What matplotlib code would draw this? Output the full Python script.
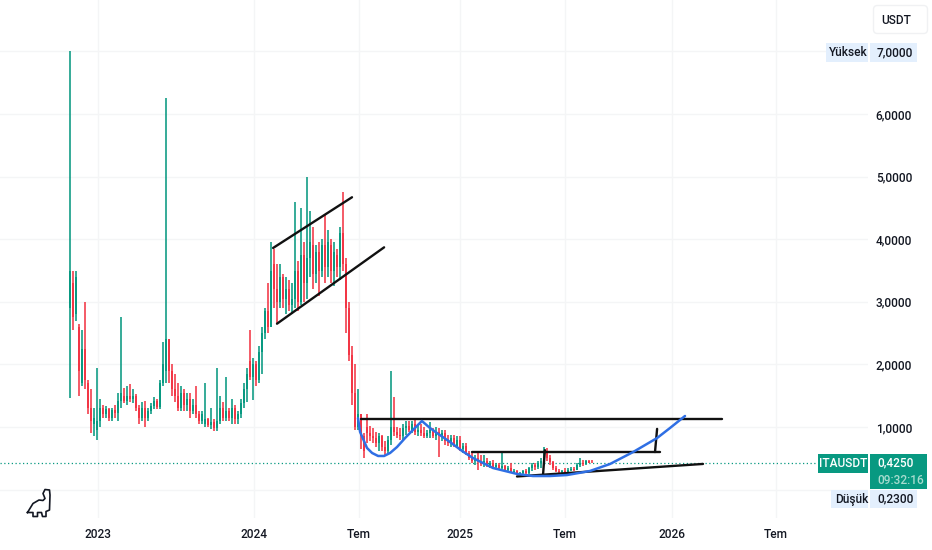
import matplotlib
matplotlib.use("Agg")
import matplotlib.pyplot as plt
from matplotlib.patches import FancyBboxPatch, Rectangle

plt.rcParams['font.family'] = ['Roboto', 'DejaVu Sans']
plt.rcParams['font.weight'] = 500

# candles, one line = ten bars
opens = [
    2.9, 3.3, 2.8, 2.6, 1.7, 2.25, 1.7, 1.3, 1.05, 0.95,
    1.1, 1.3, 1.2, 1.28, 1.15, 1.27, 1.22, 1.42, 1.5, 1.42,
    1.5, 1.45, 1.5, 1.3, 1.15, 1.3, 1.15, 1.25, 1.33, 1.42,
    1.32, 1.7, 1.9, 2.4, 1.9, 1.6, 1.5, 1.3, 1.55, 1.35,
    1.45, 1.25, 1.35, 1.2, 1.1, 1.05, 1.12, 1.03, 1.08, 0.98,
    1.1, 1.3, 1.15, 1.25, 1.15, 1.3, 1.12, 1.2, 1.38, 1.6,
    2.05, 1.8, 2.0, 1.75, 2.2, 2.5, 2.85, 2.6, 3.6, 3.2,
    3.0, 3.4, 3.05, 3.2, 2.95, 3.05, 3.5, 3.0, 3.75, 3.3,
    3.7, 3.9, 3.45, 3.8, 3.5, 3.9, 3.55, 3.9, 3.5, 3.75,
    3.55, 4.1, 3.6, 2.9, 2.15, 1.55, 1.0, 1.2, 0.85, 1.0,
    0.9, 0.85, 0.82, 0.75, 0.85, 0.68, 0.62, 0.8, 1.0, 0.92,
    0.88, 0.85, 0.98, 1.02, 0.96, 1.05, 0.92, 0.95, 0.9, 0.86,
    0.9, 0.95, 0.85, 0.92, 0.85, 0.9, 0.78, 0.75, 0.82, 0.7,
    0.8, 0.65, 0.7, 0.58, 0.5, 0.46, 0.5, 0.44, 0.41, 0.45,
    0.38, 0.42, 0.36, 0.4, 0.34, 0.38, 0.32, 0.35, 0.28, 0.3,
    0.25, 0.26, 0.3, 0.27, 0.34, 0.4, 0.36, 0.42, 0.46, 0.6,
    0.5, 0.44, 0.35, 0.3, 0.28, 0.3, 0.28, 0.32, 0.33, 0.32,
    0.4, 0.42, 0.41, 0.45, 0.43,
]
highs = [
    7.0, 3.5, 3.5, 2.65, 2.55, 3.0, 1.75, 1.6, 1.3, 1.95,
    1.45, 1.35, 1.33, 1.3, 1.3, 1.35, 1.55, 2.75, 1.62, 1.65,
    1.68, 1.6, 1.52, 1.35, 1.4, 1.42, 1.3, 1.38, 1.48, 1.45,
    1.75, 2.35, 6.25, 2.4, 2.0, 1.85, 1.7, 1.65, 1.6, 1.55,
    1.55, 1.45, 1.65, 1.25, 1.25, 1.7, 1.15, 1.3, 1.12, 1.95,
    1.5, 1.4, 1.8, 1.3, 1.45, 1.35, 1.25, 1.45, 1.7, 1.95,
    2.55, 2.1, 2.05, 2.3, 2.6, 2.9, 3.3, 3.95, 3.85, 3.6,
    3.6, 3.45, 3.4, 3.35, 3.3, 4.6, 3.65, 4.5, 3.95, 5.0,
    4.45, 4.2, 3.9, 3.95, 4.0, 4.4, 4.15, 4.0, 3.95, 3.85,
    4.2, 4.75, 3.7, 3.0, 2.3, 2.0, 1.6, 1.2, 0.9, 1.2,
    1.02, 0.98, 0.92, 0.9, 0.88, 0.78, 0.85, 1.9, 1.48, 1.0,
    0.98, 1.05, 1.1, 1.1, 1.1, 1.12, 1.05, 1.05, 1.0, 0.95,
    1.08, 0.98, 1.0, 0.98, 0.95, 0.95, 0.88, 0.88, 0.87, 0.85,
    0.85, 0.75, 0.75, 0.62, 0.58, 0.55, 0.6, 0.55, 0.56, 0.5,
    0.46, 0.47, 0.42, 0.42, 0.6, 0.4, 0.38, 0.42, 0.33, 0.32,
    0.28, 0.32, 0.33, 0.36, 0.42, 0.42, 0.45, 0.5, 0.68, 0.66,
    0.55, 0.46, 0.38, 0.33, 0.32, 0.34, 0.34, 0.36, 0.36, 0.42,
    0.5, 0.47, 0.48, 0.48, 0.47,
]
lows = [
    1.46, 2.55, 2.7, 1.5, 1.65, 1.6, 1.2, 0.9, 0.85, 0.79,
    1.0, 1.15, 1.15, 1.1, 1.1, 1.15, 1.1, 1.3, 1.38, 1.35,
    1.4, 1.38, 1.25, 1.05, 1.1, 1.0, 1.1, 1.2, 1.28, 1.28,
    1.28, 1.65, 1.7, 1.7, 1.5, 1.4, 1.25, 1.25, 1.25, 1.25,
    1.15, 1.2, 1.15, 1.05, 1.05, 1.0, 1.0, 0.97, 0.94, 0.93,
    1.05, 1.1, 1.1, 1.1, 1.05, 1.05, 1.05, 1.15, 1.3, 1.4,
    1.75, 1.43, 1.65, 1.7, 1.85, 2.4, 2.5, 2.6, 2.9, 2.65,
    2.9, 2.9, 2.8, 2.85, 2.8, 2.9, 2.85, 2.95, 3.0, 3.05,
    3.4, 3.2, 3.3, 3.1, 3.4, 3.3, 3.4, 3.3, 3.25, 3.4,
    3.35, 3.5, 2.5, 2.05, 1.35, 0.95, 0.95, 0.65, 0.5, 0.75,
    0.78, 0.75, 0.68, 0.62, 0.62, 0.55, 0.58, 0.72, 0.85, 0.82,
    0.8, 0.8, 0.88, 0.92, 0.9, 0.88, 0.85, 0.85, 0.83, 0.82,
    0.82, 0.82, 0.8, 0.52, 0.78, 0.72, 0.7, 0.68, 0.68, 0.66,
    0.62, 0.58, 0.56, 0.47, 0.42, 0.4, 0.31, 0.38, 0.36, 0.36,
    0.34, 0.34, 0.33, 0.33, 0.33, 0.3, 0.29, 0.27, 0.25, 0.24,
    0.23, 0.24, 0.25, 0.25, 0.3, 0.32, 0.33, 0.35, 0.4, 0.45,
    0.4, 0.32, 0.28, 0.26, 0.26, 0.27, 0.27, 0.29, 0.3, 0.31,
    0.36, 0.38, 0.4, 0.42, 0.42,
]
closes = [
    3.5, 2.75, 3.4, 1.9, 2.25, 1.75, 1.3, 1.1, 1.15, 1.1,
    1.3, 1.2, 1.28, 1.15, 1.27, 1.22, 1.42, 1.55, 1.42, 1.5,
    1.45, 1.5, 1.3, 1.15, 1.3, 1.15, 1.25, 1.33, 1.42, 1.32,
    1.7, 2.0, 2.4, 1.9, 1.6, 1.5, 1.3, 1.55, 1.35, 1.45,
    1.25, 1.35, 1.2, 1.1, 1.2, 1.12, 1.03, 1.08, 0.98, 1.1,
    1.3, 1.15, 1.25, 1.15, 1.3, 1.12, 1.2, 1.38, 1.6, 1.85,
    1.8, 2.0, 1.75, 2.2, 2.5, 2.85, 2.6, 3.5, 3.2, 3.0,
    3.4, 3.05, 3.2, 2.95, 3.05, 3.5, 3.0, 3.75, 3.3, 3.7,
    3.95, 3.45, 3.8, 3.5, 3.9, 3.55, 3.95, 3.5, 3.8, 3.55,
    4.1, 3.6, 2.9, 2.15, 1.55, 1.0, 1.2, 0.85, 0.62, 0.9,
    0.85, 0.82, 0.75, 0.85, 0.68, 0.62, 0.8, 1.0, 0.92, 0.88,
    0.85, 0.98, 1.02, 0.96, 1.05, 0.92, 0.95, 0.9, 0.86, 0.9,
    0.95, 0.85, 0.92, 0.85, 0.9, 0.78, 0.75, 0.82, 0.7, 0.8,
    0.65, 0.7, 0.58, 0.5, 0.46, 0.5, 0.44, 0.41, 0.45, 0.38,
    0.42, 0.36, 0.4, 0.34, 0.38, 0.32, 0.35, 0.28, 0.3, 0.25,
    0.26, 0.3, 0.27, 0.34, 0.4, 0.36, 0.42, 0.46, 0.6, 0.5,
    0.44, 0.35, 0.3, 0.28, 0.3, 0.28, 0.32, 0.33, 0.32, 0.4,
    0.42, 0.41, 0.45, 0.43, 0.425,
]

price_ticks = [1, 2, 3, 4, 5, 6]
price_labels = ['1,0000', '2,0000', '3,0000', '4,0000', '5,0000', '6,0000']
grid_prices = [0, 1, 2, 3, 4, 5, 6, 7]

# x axis is in bars, not in calendar time
time_ticks = [9.33, 61.33, 96.33, 130, 165, 200.67, 235.33]
time_labels = ['2023', '2024', 'Tem', '2025', 'Tem', '2026', 'Tem']

# hand drawn lines on the chart (bar, price)
channel_top = [(67.7, 3.86), (94, 4.67)]
channel_bottom = [(69, 2.65), (104.7, 3.87)]
resistance = [(97, 1.12), (217.3, 1.12)]
neckline = [(134, 0.60), (196.7, 0.60)]
target_a = [(157.7, 0.25), (158.3, 0.63)]
target_b = [(195, 0.60), (195.7, 0.97)]
support = [(149, 0.21), (211, 0.41)]
blue_curve = [
    (96, 1.14), (96.7, 0.92), (99, 0.665), (100.7, 0.585), (102.7, 0.537),
    (104.7, 0.537), (106.7, 0.585), (109, 0.68), (111.7, 0.824), (114.3, 0.952),
    (117.3, 1.096), (120, 0.984), (122.3, 0.904), (126.7, 0.76), (130.7, 0.617),
    (134.3, 0.505), (141, 0.345), (149, 0.25), (154.3, 0.217), (160, 0.217),
    (165.7, 0.233), (173.3, 0.297), (180, 0.409), (187.7, 0.60), (195.7, 0.824),
    (200, 0.984), (205, 1.176),
]

last_price = 0.425
high_label = '7,0000'
low_label = '0,2300'
price_label = '0,4250'
timer_label = '09:32:16'
symbol = 'ITAUSDT'

TEAL = '#089981'
RED = '#F23645'
INK = '#131722'
GRID = '#f4f5f6'
PALE = '#e3effd'

W, H = 932, 550
fig = plt.figure(figsize=(W / 100, H / 100), dpi=100, facecolor='white')

# plot area: x 0-868 px, y 0-518 px
ax = fig.add_axes([0, (H - 518) / H, 868 / W, 518 / H])
ax.set_xlim((0 - 70) / 3, (868 - 70) / 3)
ax.set_ylim((489.6 - 518) / 62.6, 489.6 / 62.6)
for s in ax.spines.values():
    s.set_visible(False)

ax.set_yticks(grid_prices)
ax.set_yticklabels(['' if p not in price_ticks else price_labels[price_ticks.index(p)] for p in grid_prices])
ax.yaxis.tick_right()
ax.set_xticks(time_ticks)
ax.set_xticklabels(time_labels)
ax.tick_params(axis='y', length=0, pad=5.6, labelsize=8.6, labelcolor=INK)
ax.tick_params(axis='x', length=0, pad=7.5, labelsize=8.6, labelcolor=INK)
ax.grid(True, color=GRID, linewidth=1)
ax.set_axisbelow(True)

bars = list(range(len(opens)))
colors = [TEAL if c >= o else RED for o, c in zip(opens, closes)]
ax.vlines(bars, lows, highs, colors=colors, linewidth=1.15, zorder=3)
ax.bar(bars, [c - o for o, c in zip(opens, closes)], bottom=opens, width=0.8,
       color=colors, linewidth=0, zorder=3)

ax.axhline(last_price, color=TEAL, linewidth=0.9, linestyle=(0, (1, 2)), zorder=2)

for seg in [channel_top, channel_bottom, resistance, neckline, target_a, target_b, support]:
    ax.plot(*zip(*seg), color='#111111', linewidth=1.7, solid_capstyle='round', zorder=4)
ax.plot(*zip(*blue_curve), color='#2f6fe4', linewidth=1.8, solid_joinstyle='round',
        solid_capstyle='round', zorder=5)

# overlay in pixels for the price scale boxes and the logo
ov = fig.add_axes([0, 0, 1, 1], facecolor='none')
ov.set_xlim(0, W)
ov.set_ylim(H, 0)
ov.axis('off')


def box(x0, y0, x1, y1, color):
    ov.add_patch(Rectangle((x0, y0), x1 - x0, y1 - y0, facecolor=color, edgecolor='none'))


ov.add_patch(FancyBboxPatch((873.5, 5.5), 54, 28, boxstyle='round,pad=0,rounding_size=4',
                            facecolor='white', edgecolor='#f0f1f3', linewidth=1))
ov.text(881, 20, 'USDT', fontsize=8.6, color=INK, va='center', ha='left')

box(826, 43, 868, 62, PALE)
box(870, 43, 917, 62, PALE)
ov.text(829, 52.5, 'Yüksek', fontsize=8.6, color=INK, va='center')
ov.text(877, 52.5, high_label, fontsize=8.6, color=INK, va='center')

box(818, 454, 868, 473, TEAL)
box(870, 454, 927, 489, TEAL)
ov.text(843, 463.5, symbol, fontsize=8.6, color='white', va='center', ha='center')
ov.text(877, 463, price_label, fontsize=8.6, color='white', va='center')
ov.text(877, 480, timer_label, fontsize=8.6, color='#a8dccf', va='center')

box(831, 490, 868, 508, PALE)
box(870, 490, 917, 508, PALE)
ov.text(835, 499, 'Düşük', fontsize=8.6, color=INK, va='center')
ov.text(877, 499, low_label, fontsize=8.6, color=INK, va='center')

# little dinosaur logo
dino_x = [27.5, 33, 39, 43, 45, 43, 45, 49.5, 50, 49.5, 46, 46, 42.5, 41.5, 37.5, 37.5, 33, 33, 27.5]
dino_y = [512.5, 503.5, 500, 500.5, 498.5, 493.5, 489.5, 490, 495, 510, 511.5, 516.5, 516.5, 512.5, 512.5, 516.5, 516.5, 512.5, 512.5]
ov.plot(dino_x, dino_y, color=INK, linewidth=1.2, solid_joinstyle='round')

fig.savefig('out.png', dpi=100, facecolor='white')
